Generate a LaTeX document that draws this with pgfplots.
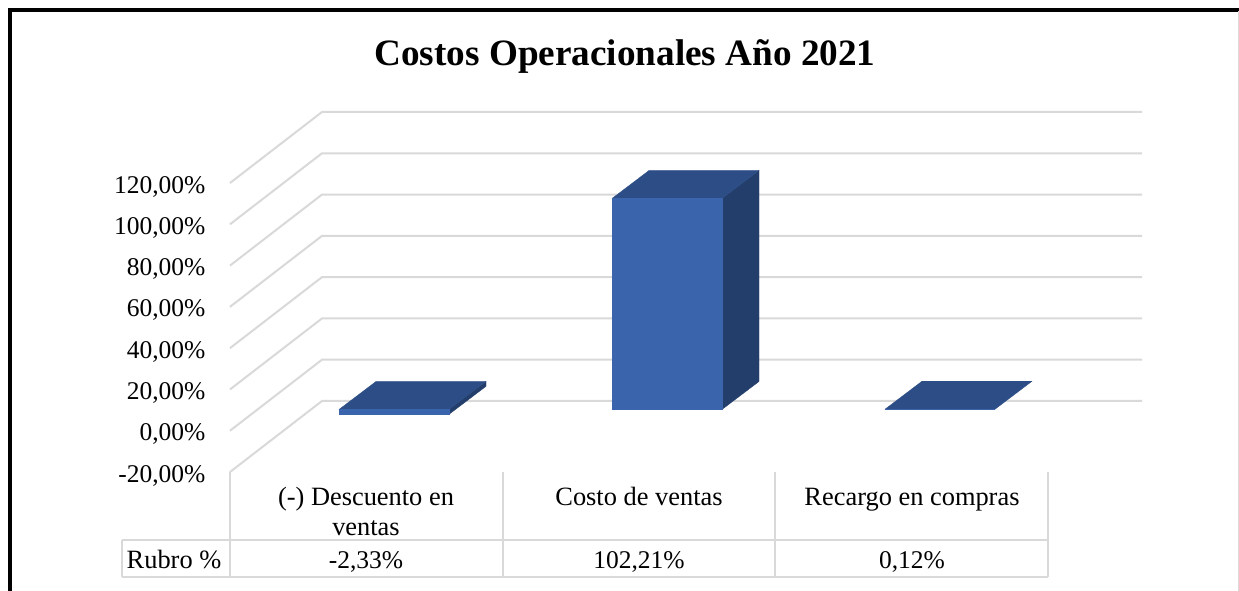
\documentclass[border=0pt]{standalone}
\usepackage{pgfplots}
\pgfplotsset{compat=1.18}
\usepackage{fontspec}
\setmainfont{Liberation Serif}
\definecolor{wallgrey}{HTML}{D9D9D9}
\definecolor{front}{HTML}{3A64AC}
\definecolor{topf}{HTML}{2C4D85}
\definecolor{sidef}{HTML}{233E6B}
\pgfplotsset{
  base/.style={
    at={(0,0)}, anchor=south west, scale only axis, width=912pt, height=289pt,
    xmin=230, xmax=1142, clip=false,
    axis line style={draw=none}, tick style={draw=none}, xtick=\empty,
  }
}
\newcommand{\lab}{\fontsize{25.5}{29}\selectfont}
\newcommand{\cat}{\fontsize{26.4}{29}\selectfont}
\begin{document}
\begin{tikzpicture}
% pixel-coordinate layer: frame, title, table
\begin{axis}[base, ymin=183, ymax=472, y dir=reverse, ytick=\empty]
\fill[white] (axis cs:0,0) rectangle (axis cs:1239,591);
\addplot[black, line width=3.5pt, forget plot] coordinates {(10,591)(10,10)(1239,10)};
\addplot[wallgrey, line width=1.2pt, forget plot] coordinates {(1238.4,11)(1238.4,591)};
\node[font=\fontsize{37.2}{42}\selectfont\bfseries, anchor=base] at (axis cs:625,66) {Costos Operacionales Año 2021};
% table
\addplot[wallgrey, line width=2pt, forget plot] coordinates {(122,540)(1048,540)};
\addplot[wallgrey, line width=2pt, forget plot] coordinates {(122,577)(1048,577)};
\addplot[wallgrey, line width=2pt, forget plot] coordinates {(122,540)(122,577)};
\addplot[wallgrey, line width=2pt, forget plot] coordinates {(230.5,472)(230.5,577)};
\addplot[wallgrey, line width=2pt, forget plot] coordinates {(502.5,472)(502.5,577)};
\addplot[wallgrey, line width=2pt, forget plot] coordinates {(775,472)(775,577)};
\addplot[wallgrey, line width=2pt, forget plot] coordinates {(1048,472)(1048,577)};
\node[font=\cat, anchor=base] at (axis cs:174,568) {Rubro \%};
\node[font=\lab, anchor=base] at (axis cs:366,568) {-2,33\%};
\node[font=\lab, anchor=base] at (axis cs:639,568) {102,21\%};
\node[font=\lab, anchor=base] at (axis cs:912,568) {0,12\%};
\node[font=\cat, anchor=base] at (axis cs:366,505) {(-) Descuento en};
\node[font=\cat, anchor=base] at (axis cs:366,535) {ventas};
\node[font=\cat, anchor=base] at (axis cs:639,505) {Costo de ventas};
\node[font=\cat, anchor=base] at (axis cs:912,505) {Recargo en compras};
\end{axis}
% wall layer: percent values on the front edge
\begin{axis}[base, ymin=-20, ymax=120, ytick={-20,0,...,120},
  yticklabels={-20{,}00\%,0{,}00\%,20{,}00\%,40{,}00\%,60{,}00\%,80{,}00\%,100{,}00\%,120{,}00\%},
  yticklabel style={font=\lab, xshift=-21pt, yshift=-3.5pt}]
\addplot[wallgrey, line width=2pt] coordinates {(230,-20)(322,14.4)(1142,14.4)};
\addplot[wallgrey, line width=2pt] coordinates {(230,0)(322,34.4)(1142,34.4)};
\addplot[wallgrey, line width=2pt] coordinates {(230,20)(322,54.4)(1142,54.4)};
\addplot[wallgrey, line width=2pt] coordinates {(230,40)(322,74.4)(1142,74.4)};
\addplot[wallgrey, line width=2pt] coordinates {(230,60)(322,94.4)(1142,94.4)};
\addplot[wallgrey, line width=2pt] coordinates {(230,80)(322,114.4)(1142,114.4)};
\addplot[wallgrey, line width=2pt] coordinates {(230,100)(322,134.4)(1142,134.4)};
\addplot[wallgrey, line width=2pt] coordinates {(230,120)(322,154.4)(1142,154.4)};
\end{axis}
% bar layer: zero of the bars' front plane
\begin{axis}[base, ymin=-30.28, ymax=109.72, ytick=\empty]
% bar 1: -2,33 %
\addplot[sidef, fill=sidef] coordinates {(449,0)(486,13.57)(486,11.24)(449,-2.33)} -- cycle;
\addplot[topf, fill=topf, line width=0.3pt] coordinates {(339,0)(376,13.57)(486,13.57)(449,0)} -- cycle;
\addplot[front, fill=front, line width=0.3pt] coordinates {(339,0)(449,0)(449,-2.33)(339,-2.33)} -- cycle;
% bar 2: 102,21 %
\addplot[sidef, fill=sidef, line width=0.3pt] coordinates {(722,0)(759,13.57)(759,115.78)(722,102.21)} -- cycle;
\addplot[topf, fill=topf, line width=0.3pt] coordinates {(612,102.21)(649,115.78)(759,115.78)(722,102.21)} -- cycle;
\addplot[front, fill=front, line width=0.3pt] coordinates {(612,0)(722,0)(722,102.21)(612,102.21)} -- cycle;
% bar 3: 0,12 %
\addplot[topf, fill=topf, line width=0.3pt] coordinates {(885,0.12)(922,13.69)(1032,13.69)(995,0.12)} -- cycle;
\addplot[draw=none, fill=front] coordinates {(885,0)(995,0)(995,0.12)(885,0.12)} -- cycle;
\end{axis}
\pgfresetboundingbox
\path[use as bounding box] (-230pt,-119pt) rectangle (1009pt,472pt);
\end{tikzpicture}
\end{document}
